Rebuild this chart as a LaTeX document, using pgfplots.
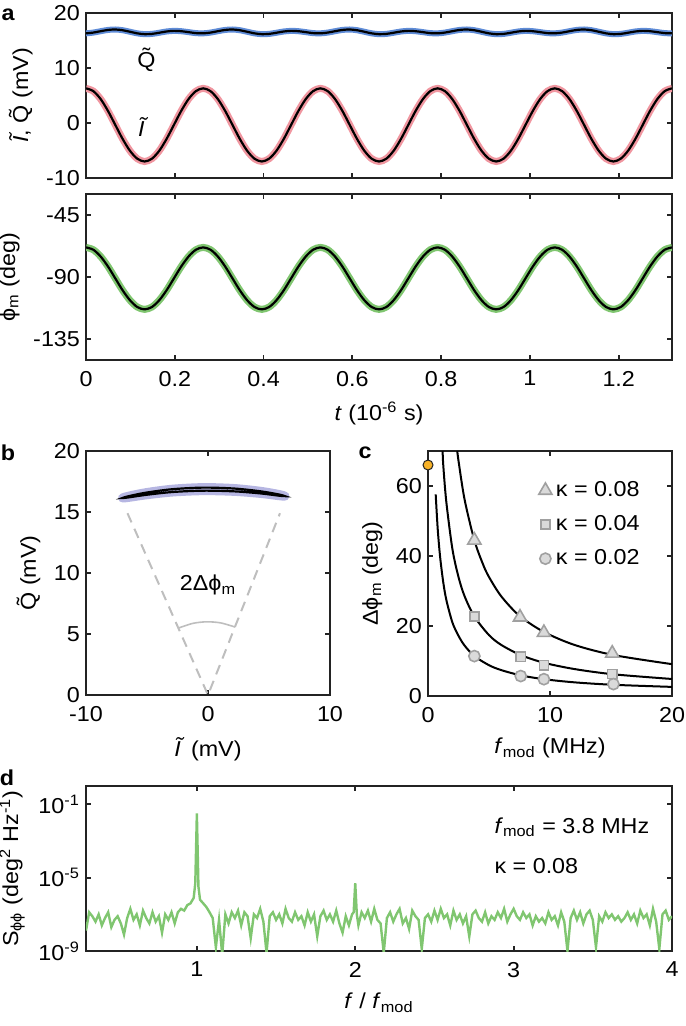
\documentclass[border=0pt]{standalone}
\usepackage{fontspec}
\setmainfont{Liberation Sans}[FakeStretch=1.08]
\usepackage{pgfplots}
\pgfplotsset{compat=1.18}
\usepackage{pgfplotstable}

\definecolor{qblue}{RGB}{95,140,215}
\definecolor{ipink}{RGB}{240,150,160}
\definecolor{pgreen}{RGB}{128,198,112}
\definecolor{lav}{RGB}{182,182,226}
\definecolor{mkfill}{RGB}{218,218,218}
\definecolor{mkedge}{RGB}{160,160,160}
\definecolor{dgray}{RGB}{190,190,190}
\definecolor{orng}{RGB}{247,178,40}
\definecolor{axc}{RGB}{35,35,35}

\newcommand{\fs}{\fontsize{10.8}{12.8}\selectfont}

% panel a: quadratures and phase over time (one period = 16 samples)
\pgfplotstableread{
t      I      Q      phi
0.0000  6.30  16.30  -68.6
0.0165  5.79  16.44  -70.3
0.0330  4.35  16.69  -75.2
0.0495  2.20  16.92  -82.4
0.0660 -0.35  17.00  -91.0
0.0825 -2.90  16.87  -99.6
0.0990 -5.05  16.59 -106.8
0.1155 -6.49  16.30 -111.7
0.1320 -7.00  16.15 -113.4
0.1485 -6.49  16.20 -111.7
0.1650 -5.05  16.41 -106.8
0.1815 -2.90  16.64  -99.6
0.1980 -0.35  16.75  -91.0
0.2145  2.20  16.69  -82.4
0.2310  4.35  16.52  -75.2
0.2475  5.79  16.34  -70.3
0.2640  6.30  16.30  -68.6
0.2805  5.79  16.44  -70.3
0.2970  4.35  16.69  -75.2
0.3135  2.20  16.92  -82.4
0.3300 -0.35  17.00  -91.0
0.3465 -2.90  16.87  -99.6
0.3630 -5.05  16.59 -106.8
0.3795 -6.49  16.30 -111.7
0.3960 -7.00  16.15 -113.4
0.4125 -6.49  16.20 -111.7
0.4290 -5.05  16.41 -106.8
0.4455 -2.90  16.64  -99.6
0.4620 -0.35  16.75  -91.0
0.4785  2.20  16.69  -82.4
0.4950  4.35  16.52  -75.2
0.5115  5.79  16.34  -70.3
0.5280  6.30  16.30  -68.6
0.5445  5.79  16.44  -70.3
0.5610  4.35  16.69  -75.2
0.5775  2.20  16.92  -82.4
0.5940 -0.35  17.00  -91.0
0.6105 -2.90  16.87  -99.6
0.6270 -5.05  16.59 -106.8
0.6435 -6.49  16.30 -111.7
0.6600 -7.00  16.15 -113.4
0.6765 -6.49  16.20 -111.7
0.6930 -5.05  16.41 -106.8
0.7095 -2.90  16.64  -99.6
0.7260 -0.35  16.75  -91.0
0.7425  2.20  16.69  -82.4
0.7590  4.35  16.52  -75.2
0.7755  5.79  16.34  -70.3
0.7920  6.30  16.30  -68.6
0.8085  5.79  16.44  -70.3
0.8250  4.35  16.69  -75.2
0.8415  2.20  16.92  -82.4
0.8580 -0.35  17.00  -91.0
0.8745 -2.90  16.87  -99.6
0.8910 -5.05  16.59 -106.8
0.9075 -6.49  16.30 -111.7
0.9240 -7.00  16.15 -113.4
0.9405 -6.49  16.20 -111.7
0.9570 -5.05  16.41 -106.8
0.9735 -2.90  16.64  -99.6
0.9900 -0.35  16.75  -91.0
1.0065  2.20  16.69  -82.4
1.0230  4.35  16.52  -75.2
1.0395  5.79  16.34  -70.3
1.0560  6.30  16.30  -68.6
1.0725  5.79  16.44  -70.3
1.0890  4.35  16.69  -75.2
1.1055  2.20  16.92  -82.4
1.1220 -0.35  17.00  -91.0
1.1385 -2.90  16.87  -99.6
1.1550 -5.05  16.59 -106.8
1.1715 -6.49  16.30 -111.7
1.1880 -7.00  16.15 -113.4
1.2045 -6.49  16.20 -111.7
1.2210 -5.05  16.41 -106.8
1.2375 -2.90  16.64  -99.6
1.2540 -0.35  16.75  -91.0
1.2705  2.20  16.69  -82.4
1.2870  4.35  16.52  -75.2
1.3035  5.79  16.34  -70.3
1.3200  6.30  16.30  -68.6
}\tabA

% panel d: phase noise spectrum
\pgfplotstableread{
x     S
0.30 1.3e-8
0.32 1.3e-7
0.34 7.9e-8
0.36 4.0e-8
0.38 1.0e-7
0.40 2.5e-8
0.42 6.3e-8
0.44 1.3e-7
0.46 2.0e-8
0.48 5.0e-8
0.50 7.9e-8
0.52 3.2e-8
0.54 7.9e-9
0.56 6.3e-8
0.58 2.0e-7
0.60 5.0e-8
0.62 1.0e-7
0.64 2.5e-8
0.66 1.6e-7
0.68 6.3e-8
0.70 3.2e-8
0.72 1.3e-7
0.74 4.0e-8
0.76 7.9e-8
0.78 1.0e-8
0.80 1.0e-7
0.82 5.0e-8
0.84 1.3e-7
0.86 3.2e-8
0.88 1.3e-7
0.90 2.0e-7
0.92 1.6e-7
0.94 3.2e-7
0.96 4.0e-7
0.98 7.9e-7
0.99 5.0e-6
1.00 3.2e-2
1.01 3.2e-6
1.02 6.3e-7
1.04 4.0e-7
1.06 2.5e-7
1.08 1.3e-7
1.10 6.3e-8
1.12 1.6e-9
1.14 5.0e-8
1.16 6.3e-10
1.18 1.0e-7
1.20 3.2e-8
1.22 1.3e-7
1.24 6.3e-8
1.26 1.6e-7
1.28 2.5e-8
1.30 1.3e-7
1.32 7.9e-8
1.34 5.0e-9
1.36 1.0e-7
1.38 6.3e-8
1.40 2.0e-7
1.42 4.0e-8
1.44 7.9e-10
1.46 7.9e-8
1.48 1.3e-7
1.50 5.0e-8
1.52 1.0e-7
1.54 3.2e-8
1.56 2.0e-7
1.58 6.3e-8
1.60 4.0e-8
1.62 1.3e-7
1.64 5.0e-8
1.66 7.9e-8
1.68 2.5e-8
1.70 1.3e-7
1.72 4.0e-8
1.74 1.0e-7
1.76 6.3e-9
1.78 7.9e-8
1.80 1.6e-7
1.82 5.0e-8
1.84 1.0e-7
1.86 4.0e-8
1.88 1.6e-7
1.90 3.2e-8
1.92 1.0e-8
1.94 7.9e-8
1.96 2.5e-8
1.98 1.0e-7
1.99 1.3e-7
2.00 5.0e-6
2.01 1.0e-7
2.02 2.5e-8
2.04 1.3e-7
2.06 6.3e-8
2.08 1.6e-7
2.10 4.0e-8
2.12 2.0e-7
2.14 5.0e-8
2.16 3.2e-8
2.18 7.9e-10
2.20 6.3e-8
2.22 1.3e-7
2.24 4.0e-8
2.26 1.0e-7
2.28 2.0e-7
2.30 3.2e-8
2.32 6.3e-8
2.34 1.6e-8
2.36 1.6e-7
2.38 7.9e-8
2.40 5.0e-8
2.42 1.3e-9
2.44 6.3e-8
2.46 1.0e-7
2.48 4.0e-8
2.50 1.6e-7
2.52 5.0e-8
2.54 2.0e-7
2.56 6.3e-8
2.58 1.0e-7
2.60 2.5e-8
2.62 1.6e-7
2.64 5.0e-8
2.66 1.0e-7
2.68 3.2e-8
2.70 7.9e-8
2.72 6.3e-9
2.74 1.0e-7
2.76 1.6e-7
2.78 6.3e-8
2.80 4.0e-8
2.82 1.3e-7
2.84 3.2e-8
2.86 7.9e-8
2.88 5.0e-8
2.90 1.3e-7
2.92 6.3e-8
2.94 2.0e-7
2.96 4.0e-8
2.98 1.0e-7
3.00 2.0e-7
3.02 7.9e-8
3.04 5.0e-8
3.06 1.3e-7
3.08 6.3e-8
3.10 1.0e-7
3.12 2.5e-8
3.14 7.9e-8
3.16 4.0e-8
3.18 6.3e-8
3.20 3.2e-8
3.22 1.3e-7
3.24 5.0e-8
3.26 7.9e-8
3.28 2.5e-8
3.30 1.3e-7
3.32 4.0e-8
3.34 1.0e-9
3.36 6.3e-8
3.38 1.6e-7
3.40 5.0e-8
3.42 1.3e-7
3.44 3.2e-8
3.46 1.0e-7
3.48 1.6e-7
3.50 5.0e-8
3.52 1.6e-9
3.54 7.9e-8
3.56 4.0e-8
3.58 1.3e-7
3.60 6.3e-8
3.62 1.0e-7
3.64 5.0e-8
3.66 7.9e-8
3.68 4.0e-8
3.70 6.3e-8
3.72 1.3e-7
3.74 5.0e-8
3.76 1.0e-7
3.78 3.2e-8
3.80 1.6e-7
3.82 6.3e-8
3.84 1.0e-7
3.86 2.5e-8
3.88 2.0e-7
3.90 4.0e-8
3.92 1.3e-9
3.94 1.0e-7
3.96 1.6e-7
3.98 5.0e-8
4.00 7.9e-8
}\tabD

\pgfplotsset{
  fig/.style={
    scale only axis,
    anchor=north west,
    axis line style={axc, line width=0.9pt},
    tick style={axc, line width=0.9pt},
    tick align=inside,
    major tick length=2.5pt,
    tick label style={font=\fs},
    label style={font=\fs},
    xticklabel style={yshift=-2pt},
    yticklabel style={xshift=0.5pt},
    xlabel style={yshift=-1pt},
  },
}

\begin{document}
\begin{tikzpicture}
\useasboundingbox (0,0) rectangle (342.5pt,-513pt);

\node[font=\fs\bfseries] at (4pt,-7.5pt) {a};
\node[font=\fs\bfseries] at (4pt,-226.5pt) {b};
\node[font=\fs\bfseries] at (182.5pt,-226.5pt) {c};
\node[font=\fs\bfseries] at (3.5pt,-389pt) {d};

% a, top
\begin{axis}[fig, at={(43pt,-6.5pt)}, width=293pt, height=82.5pt,
  xmin=0, xmax=1.32, ymin=-10, ymax=20,
  xtick={0,0.2,0.4,0.6,0.8,1.0,1.2}, xticklabels={},
  ytick={-10,0,10,20}, yticklabels={-10,0,10,20},
  ylabel={\textit{\~{I}}, \~{Q} (mV)}]
\addplot[qblue, line width=3pt, smooth] table[x=t,y=Q]{\tabA};
\addplot[ipink, line width=3.5pt, smooth] table[x=t,y=I]{\tabA};
\addplot[black, line width=1.1pt, smooth] table[x=t,y=Q]{\tabA};
\addplot[black, line width=1.1pt, smooth] table[x=t,y=I]{\tabA};
\node[font=\fs] at (axis cs:0.136,11.5) {\~{Q}};
\node[font=\fs] at (axis cs:0.129,-0.7) {\textit{\~{I}}};
\end{axis}

% a, bottom
\begin{axis}[fig, at={(43pt,-97pt)}, width=293pt, height=83pt,
  xmin=0, xmax=1.32, ymin=-150, ymax=-30,
  xtick={0,0.2,0.4,0.6,0.8,1.0,1.2}, xticklabels={0,0.2,0.4,0.6,0.8,1,1.2},
  ytick={-135,-90,-45}, yticklabels={-135,-90,-45},
  xlabel={\textit{t} (10\textsuperscript{-6} s)},
  ylabel={ϕ\textsubscript{m} (deg)}]
\addplot[pgreen, line width=3.5pt, smooth] table[x=t,y=phi]{\tabA};
\addplot[black, line width=1.1pt, smooth] table[x=t,y=phi]{\tabA};
\end{axis}

% b
\begin{axis}[fig, at={(43pt,-225.5pt)}, width=122pt, height=122pt,
  xmin=-10, xmax=10, ymin=0, ymax=20,
  xtick={-10,0,10}, xticklabels={-10,0,10},
  ytick={0,5,10,15,20}, yticklabels={0,5,10,15,20},
  xlabel={\textit{\~{I}} (mV)}, ylabel={\~{Q} (mV)}]
\addplot[dgray, line width=1pt, dash pattern=on 5pt off 3.5pt] coordinates {(-6.6,14.9) (0,0) (5.9,14.9)};
\addplot[dgray, line width=0.8pt, smooth] coordinates {(2.22,5.57) (1.04,5.91) (-0.10,6.00) (-1.25,5.87) (-2.44,5.48)};
\addplot[lav, line width=4.5pt, smooth, line cap=round, line join=round] table[x=I,y=Q]{\tabA};
\addplot[black, line width=1.1pt, smooth] table[x=I,y=Q]{\tabA};
\node[font=\fs] at (axis cs:0,9) {2Δϕ\textsubscript{m}};
\end{axis}

% c
\begin{axis}[fig, at={(214pt,-225.5pt)}, width=122pt, height=122.5pt,
  xmin=0, xmax=20, ymin=0, ymax=70, clip=false,
  xtick={0,10,20}, xticklabels={0,10,20},
  ytick={0,20,40,60}, yticklabels={0,20,40,60},
  xlabel={\textit{f}\textsubscript{mod} (MHz)}, ylabel={Δϕ\textsubscript{m} (deg)},
  legend style={draw=none, fill=none, at={(0.91,0.91)}, anchor=north east,
    font=\fs, row sep=4pt},
  legend cell align=left]
\addplot[black, line width=1pt, smooth, forget plot] coordinates {
  (2.40,70) (2.5,67.2) (3,56.1) (3.8,44.5) (4.5,37.7) (5,34.0) (6,28.5)
  (7.5,22.9) (9.5,18.3) (12,14.6) (15.2,11.7) (20,9.1)};
\addplot[black, line width=1pt, smooth, forget plot] coordinates {
  (1.20,70) (1.25,66) (1.5,55.5) (2,42) (2.5,34) (3,28.5) (3.8,22.7) (5,17.4)
  (6,14.6) (7.6,11.7) (9.5,9.5) (12,7.7) (15.2,6.2) (20,4.86)};
\addplot[black, line width=1pt, smooth, forget plot] coordinates {
  (0.63,57.6) (0.8,47.5) (1.0,39.5) (1.25,32.5) (1.5,27.5) (2,21) (2.5,17.2)
  (3,14.4) (3.8,11.4) (5,8.8) (6,7.4) (7.6,5.9) (9.5,4.8) (12,3.9) (15.2,3.2) (20,2.6)};
\addplot[only marks, mark=triangle*, mark size=3.8pt,
  mark options={fill=mkfill, draw=mkedge, line width=0.8pt}]
  coordinates {(3.8,44.5) (7.54,22.5) (9.5,18.1) (15.1,12.2)};
\addlegendentry{κ = 0.08}
\addplot[only marks, mark=square*, mark size=2.3pt,
  mark options={fill=mkfill, draw=mkedge, line width=0.8pt}]
  coordinates {(3.8,22.7) (7.6,11.2) (9.5,8.8) (15.1,6.3)};
\addlegendentry{κ = 0.04}
\addplot[only marks, mark=*, mark size=2.8pt,
  mark options={fill=mkfill, draw=mkedge, line width=0.8pt}]
  coordinates {(3.8,11.4) (7.6,5.7) (9.5,4.8) (15.2,3.4)};
\addlegendentry{κ = 0.02}
\addplot[only marks, mark=*, mark size=2.5pt, forget plot,
  mark options={fill=orng, draw=axc, line width=0.5pt}]
  coordinates {(0,66)};
\end{axis}

% d
\begin{axis}[fig, at={(43pt,-393pt)}, width=293pt, height=82.5pt,
  ymode=log, xmin=0.3, xmax=4, ymin=1e-9, ymax=1,
  xtick={1,2,3,4}, xticklabels={1,2,3,4},
  ytick={1e-9,1e-5,1e-1},
  yticklabels={10\textsuperscript{-9},10\textsuperscript{-5},10\textsuperscript{-1}},
  yminorticks=false,
  xlabel={\textit{f} / \textit{f}\textsubscript{mod}},
  ylabel={S\textsubscript{ϕϕ} (deg\textsuperscript{2} Hz\textsuperscript{-1})}]
\addplot[pgreen, line width=1.2pt] table[x=x,y=S]{\tabD};
\node[font=\fs, anchor=base west] at (axis cs:2.835,2.6e-3) {\textit{f}\textsubscript{mod} = 3.8 MHz};
\node[font=\fs, anchor=base west] at (axis cs:2.835,1.8e-5) {κ = 0.08};
\end{axis}
\end{tikzpicture}
\end{document}
